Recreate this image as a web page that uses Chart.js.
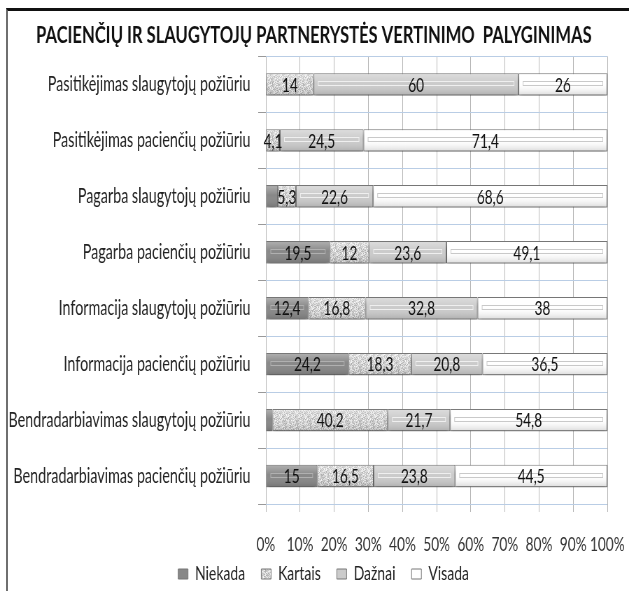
<!DOCTYPE html>
<html>
<head>
<meta charset="utf-8">
<script src="https://cdn.jsdelivr.net/npm/chart.js@4/dist/chart.umd.min.js"></script>
<style>
  body { margin: 0; background: #fff; }
  #wrap { position: relative; width: 629px; height: 591px; overflow: hidden; }
  #frame { position: absolute; left: 6px; top: 8px; right: 0; bottom: 0; border-top: 3px solid #111; border-left: 2px solid #6f6f6f; }
  #chart { position: absolute; left: 0; top: 0; }
</style>
</head>
<body>
<div id="wrap">
  <div id="frame"></div>
  <!-- drobė piešiama plačiau ir suspaudžiama horizontaliai, kad šriftas būtų siauras kaip originale -->
  <canvas id="chart" width="899" height="591" style="width:629px;height:591px"></canvas>
</div>
<script>
// Duomenys (procentais, kaip paveiksle)
const categories = [
    'Pasitikėjimas slaugytojų požiūriu',
    'Pasitikėjimas pacienčių požiūriu',
    'Pagarba slaugytojų požiūriu',
    'Pagarba pacienčių požiūriu',
    'Informacija slaugytojų požiūriu',
    'Informacija pacienčių požiūriu',
    'Bendradarbiavimas slaugytojų požiūriu',
    'Bendradarbiavimas pacienčių požiūriu'
];
const seriesNames = ['Niekada', 'Kartais', 'Dažnai', 'Visada'];
const niekada = [0, 0, 3.5, 19.5, 12.4, 24.2, 2.3, 15];
const kartais = [14, 4.1, 5.3, 12, 16.8, 18.3, 40.2, 16.5];
const daznai = [60, 24.5, 22.6, 23.6, 32.8, 20.8, 21.7, 23.8];
const visada = [26, 71.4, 68.6, 49.1, 38, 36.5, 54.8, 44.5];
const tickLabels = ['0%', '10%', '20%', '30%', '40%', '50%', '60%', '70%', '80%', '90%', '100%'];

const series = [niekada, kartais, daznai, visada];
const FONT = "Lato, 'Open Sans', sans-serif";
const SX = 0.7; // horizontalus suspaudimas

// 100% sudėtinė juosta: kiekviena eilutė normuojama iki 100
const totals = categories.map((c, i) => series.reduce((s, arr) => s + arr[i], 0));
const share = arr => arr.map((v, i) => v / totals[i] * 100);

// Taškuota tekstūra "Kartais" serijai
function speckle() {
    const p = document.createElement('canvas');
    p.width = 18; p.height = 18;
    const pc = p.getContext('2d');
    for (let y = 0; y < 18; y++) {
        for (let x = 0; x < 18; x++) {
            const n = (x * 7 + y * 13 + ((x * y) % 5) * 11) % 23;
            const g = Math.round(170 + n * 3.6);
            pc.fillStyle = 'rgb(' + g + ',' + g + ',' + g + ')';
            pc.fillRect(x, y, 1, 1);
        }
    }
    return pc.createPattern(p, 'repeat');
}

const fills = ['#888888', speckle(), '#cbcbcb', '#ffffff'];
const insetColors = ['#b0b0b0', 'rgba(255,255,255,0)', '#efefef', '#c9c9c9'];

function fmt(v) {
    return String(v).replace('.', ',');
}

// pavadinimo ir legendos centravimas kaip originale
const centerBlocks = {
    id: 'centerBlocks',
    afterLayout(chart) {
        const shift = (box, cx) => {
            if (!box) return;
            const d = cx - (box.left + box.right) / 2;
            box.left += d;
            box.right += d;
        };
        shift(chart.titleBlock, 314 / SX);
        shift(chart.legend, 329 / SX);
    }
};

const barEffects = {
    id: 'barEffects',
    beforeDatasetsDraw(chart) {
        const c = chart.ctx;
        c.save();
        c.shadowColor = 'rgba(0,0,0,0.45)';
        c.shadowBlur = 5;
        c.shadowOffsetY = 4;
    },
    afterDatasetsDraw(chart) {
        const c = chart.ctx;
        c.restore();
        const boxes = [];
        chart.data.datasets.forEach((ds, di) => {
            const meta = chart.getDatasetMeta(di);
            meta.data.forEach((el, i) => {
                const left = Math.min(el.x, el.base), right = Math.max(el.x, el.base);
                const top = el.y - el.height / 2, bottom = el.y + el.height / 2;
                const w = right - left;
                if (w < 1) return;
                const g = c.createLinearGradient(0, top, 0, bottom);
                g.addColorStop(0, 'rgba(255,255,255,0.35)');
                g.addColorStop(0.45, 'rgba(255,255,255,0)');
                g.addColorStop(1, 'rgba(0,0,0,0.15)');
                c.fillStyle = g;
                c.fillRect(left + 1, top + 1, w - 2, bottom - top - 2);
                if (w > 20) {
                    c.strokeStyle = insetColors[di];
                    c.lineWidth = 1;
                    c.strokeRect(left + 6.5, Math.round(el.y) - 2.5, w - 13, 4);
                }
                boxes.push({ x: (left + right) / 2, y: el.y, v: series[di][i] });
            });
        });
        c.save();
        c.font = '19.5px ' + FONT;
        c.textAlign = 'center';
        c.textBaseline = 'middle';
        c.fillStyle = '#111';
        boxes.forEach(b => {
            if (b.v >= 4) c.fillText(fmt(b.v), b.x, b.y + 1);
        });
        c.restore();
    }
};

const ctx = document.getElementById('chart').getContext('2d');
new Chart(ctx, {
    type: 'bar',
    data: {
        labels: categories,
        datasets: series.map((arr, k) => ({
            label: seriesNames[k],
            data: share(arr),
            backgroundColor: fills[k],
            borderColor: '#777777',
            borderWidth: 1,
            borderSkipped: false,
            barPercentage: 0.4,
            categoryPercentage: 1
        }))
    },
    options: {
        indexAxis: 'y',
        responsive: false,
        animation: false,
        devicePixelRatio: 1,
        layout: { padding: { left: 0, right: 31, bottom: -3 } },
        scales: {
            x: {
                stacked: true,
                min: 0,
                max: 100,
                ticks: {
                    stepSize: 10,
                    padding: 21,
                    maxRotation: 0,
                    autoSkip: false,
                    color: '#333',
                    font: { family: FONT, size: 19.5 },
                    callback: (v) => tickLabels[Math.round(v / 10)]
                },
                grid: { color: '#b5b5b5', tickLength: 8, tickColor: '#b5b5b5' },
                border: { display: false },
                afterFit: (s) => {
                    s.height = 52;
                    s.paddingLeft = 0;
                    s.paddingRight = 0;
                }
            },
            y: {
                stacked: true,
                grid: { offset: true, color: '#b9cde5', tickLength: 11, tickColor: '#999' },
                ticks: { padding: 11, color: '#222', font: { family: FONT, size: 20.5 } },
                border: { display: false },
                afterFit: (s) => { s.width = Math.round(266 / SX); }
            }
        },
        plugins: {
            title: {
                display: true,
                text: 'PACIENČIŲ IR SLAUGYTOJŲ PARTNERYSTĖS VERTINIMO  PALYGINIMAS',
                color: '#111',
                font: { family: FONT, size: 23.7, weight: 'bold' },
                padding: { top: 21, bottom: 7 }
            },
            legend: {
                position: 'bottom',
                labels: {
                    boxWidth: 14,
                    boxHeight: 10,
                    padding: 8,
                    color: '#222',
                    font: { family: FONT, size: 20 },
                    generateLabels: (chart) => {
                        const items = Chart.defaults.plugins.legend.labels.generateLabels(chart);
                        // papildomas tarpas tarp legendos elementų
                        items.forEach(it => { it.text = it.text + '\u2003'; });
                        return items;
                    }
                }
            },
            tooltip: { enabled: false }
        }
    },
    plugins: [centerBlocks, barEffects]
});
</script>
</body>
</html>
